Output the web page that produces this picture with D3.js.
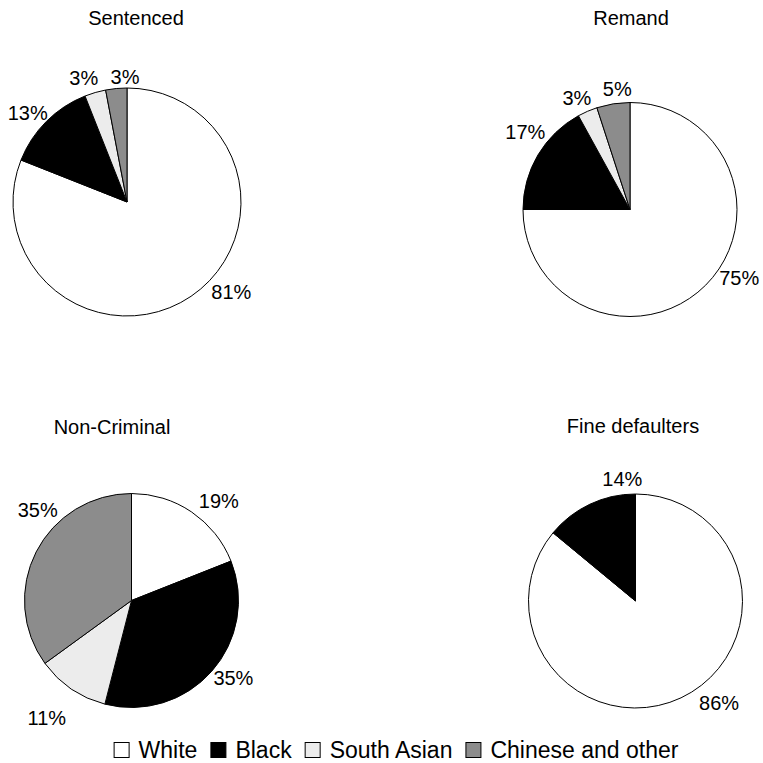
<!DOCTYPE html>
<html>
<head>
<meta charset="utf-8">
<script src="https://cdn.jsdelivr.net/npm/d3@7"></script>
<style>
  body { margin: 0; background: #fff; }
  svg { display: block; font-family: "Liberation Sans", Arial, sans-serif; }
</style>
</head>
<body>
<svg id="chart" width="763" height="763"></svg>
<script>
// Data (percent of each group)
const categories = ["White", "Black", "South Asian", "Chinese and other"];
const panelTitles = ["Sentenced", "Remand", "Non-Criminal", "Fine defaulters"];
const sentenced = [81, 13, 3, 3];
const remand = [75, 17, 3, 5];
const nonCriminal = [19, 35, 11, 35];
const fineDefaulters = [86, 14, 0, 0];
const panelValues = [sentenced, remand, nonCriminal, fineDefaulters];

// Layout of the four pies (centre, radius, title position)
const panels = [
    { cx: 127, cy: 202, r: 114, tx: 136, ty: 18 },
    { cx: 630, cy: 209.5, r: 107, tx: 631, ty: 18 },
    { cx: 131.5, cy: 600.5, r: 107, tx: 112, ty: 427 },
    { cx: 635.5, cy: 601, r: 107, tx: 633, ty: 426 }
];
// Label tweaks [angle shift in degrees, extra radius] so labels sit like the original
const labelNudge = [
    [[-15, 0], [-3, -4], [-3, 2], [4.5, 0]],
    [[-13, -3], [6, -1], [-2, 0], [3, 2]],
    [[7, 3], [-4, -3], [1.5, 17], [17, 0]],
    [[-14, 3], [19, 2], [0, 0], [0, 0]]
];

const color = d3.scaleOrdinal()
    .domain(categories)
    .range(["#ffffff", "#000000", "#ececec", "#8c8c8c"]);

const svg = d3.select("#chart");
const pie = d3.pie().sort(null).value(d => d.value);
const labelFont = 20;
const gap = 4;

panels.forEach((p, i) => {
    const data = categories.map((c, j) => ({ cat: c, value: panelValues[i][j], idx: j }));
    const arcs = pie(data).filter(d => d.data.value > 0);
    const arc = d3.arc().innerRadius(0).outerRadius(p.r);

    const g = svg.append("g").attr("transform", `translate(${p.cx},${p.cy})`);

    g.selectAll("path")
        .data(arcs)
        .join("path")
        .attr("d", arc)
        .attr("fill", d => color(d.data.cat))
        .attr("stroke", "#000")
        .attr("stroke-width", 1)
        .attr("stroke-linejoin", "round");

    // percentage labels outside the pie
    const labels = g.selectAll("text.pct")
        .data(arcs)
        .join("text")
        .attr("class", "pct")
        .attr("text-anchor", "middle")
        .attr("dy", "0.35em")
        .attr("font-size", labelFont)
        .attr("fill", "#000")
        .text(d => d.data.value + "%");

    labels.each(function (d) {
        const nudge = labelNudge[i][d.data.idx];
        const a = (d.startAngle + d.endAngle) / 2 + nudge[0] * Math.PI / 180;
        const ux = Math.sin(a), uy = -Math.cos(a);
        const hw = this.getComputedTextLength() / 2;
        const hh = 0.36 * labelFont;
        const dist = p.r + gap + Math.abs(ux) * hw + Math.abs(uy) * hh + nudge[1];
        d3.select(this).attr("x", ux * dist).attr("y", uy * dist);
    });

    svg.append("text")
        .attr("x", p.tx)
        .attr("y", p.ty)
        .attr("dy", "0.35em")
        .attr("text-anchor", "middle")
        .attr("font-size", 20)
        .attr("fill", "#000")
        .text(panelTitles[i]);
});

// Legend along the bottom
const legendFont = 23;
const box = 15;
const itemGap = 13;
const legend = svg.append("g");
let x = 0;
categories.forEach(c => {
    const item = legend.append("g").attr("transform", `translate(${x},0)`);
    item.append("rect")
        .attr("x", 0.5).attr("y", -box / 2)
        .attr("width", box).attr("height", box)
        .attr("fill", color(c))
        .attr("stroke", "#000")
        .attr("stroke-width", 1);
    const t = item.append("text")
        .attr("x", box + 10)
        .attr("dy", "0.35em")
        .attr("font-size", legendFont)
        .attr("fill", "#000")
        .text(c);
    x += box + 10 + t.node().getComputedTextLength() + itemGap;
});
const legendWidth = x - itemGap;
legend.attr("transform", `translate(${396 - legendWidth / 2},750)`);
</script>
</body>
</html>
